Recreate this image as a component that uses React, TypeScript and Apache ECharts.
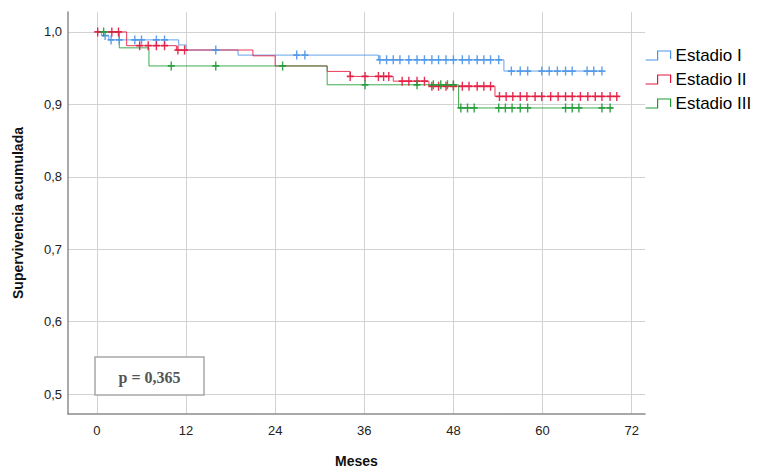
import React, { useEffect, useRef } from "react";
import * as echarts from "echarts";

// ---- Data ----
const seriesNames = ["Estadio I", "Estadio II", "Estadio III"];

// Kaplan-Meier event times (months) and survival after each event
const stage1Times = [0, 0.6, 1.6, 11, 12, 19, 37.9, 54.8];
const stage1Surv = [1.0, 0.995, 0.989, 0.982, 0.975, 0.968, 0.9615, 0.946];
const stage1End = 68;
const stage1Censored = [1.1, 1.9, 3.0, 5.1, 6.0, 8.0, 9.1, 16, 26.9, 28.0, 38.1, 39.0, 39.9, 40.8, 42.0, 43.1, 44.1, 45.1, 46.0, 47.0, 48.0, 49.2, 50.1, 51.2, 52.1, 53.0, 54.1, 55.8, 57.0, 58.0, 59.9, 60.9, 62.0, 63.1, 64.0, 66.0, 66.9, 68.0];

const stage2Times = [0, 4, 10.7, 21, 24, 31, 34.1, 39.9, 44.7, 53.6];
const stage2Surv = [1.0, 0.981, 0.975, 0.967, 0.953, 0.9455, 0.9386, 0.932, 0.925, 0.911];
const stage2End = 70.3;
const stage2Censored = [0.1, 2.0, 2.9, 5.75, 6.9, 8.0, 9.1, 10.9, 11.8, 34.1, 36.1, 37.9, 38.6, 39.3, 41.1, 42.0, 43.1, 44.1, 45.1, 46.0, 47.0, 48.0, 49.2, 50.1, 51.2, 52.1, 53.0, 54.2, 55.1, 56.0, 57.0, 57.9, 59.0, 59.9, 61.1, 62.1, 63.1, 64.0, 65.1, 66.1, 67.1, 68.0, 69.1, 70.0];

const stage3Times = [0, 3, 7, 31, 48.7];
const stage3Surv = [1.0, 0.978, 0.953, 0.927, 0.895];
const stage3End = 69.4;
const stage3Censored = [0.9, 10.0, 16.0, 25.0, 36.1, 43.1, 45.3, 46.3, 47.2, 48.0, 49.0, 49.9, 50.8, 54.1, 55.0, 55.9, 57.0, 58.0, 63.1, 64.0, 64.9, 68.0, 69.1];

const xTicks = [0, 12, 24, 36, 48, 60, 72];
const yTicks = [0.5, 0.6, 0.7, 0.8, 0.9, 1.0];
const pValueText = "p = 0,365";

const colors = ["#4a95e8", "#e3173e", "#1e9b34"];

function stepValue(times: number[], surv: number[], t: number) {
  let v = surv[0];
  for (let i = 0; i < times.length; i++) {
    if (times[i] <= t) v = surv[i];
  }
  return v;
}

function curve(times: number[], surv: number[], end: number) {
  const pts = times.map((t, i) => [t, surv[i]]);
  pts.push([end, surv[surv.length - 1]]);
  return pts;
}

function censorPts(times: number[], surv: number[], cens: number[]) {
  return cens.map((t) => [t, stepValue(times, surv, t)]);
}

const plusPath =
  "path://M4,0 L6,0 L6,4 L10,4 L10,6 L6,6 L6,10 L4,10 L4,6 L0,6 L0,4 L4,4 Z";
const stepIcon = "path://M0,9 L12,9 L12,0 L25,0 L25,8";

export default function App() {
  const ref = useRef<HTMLDivElement>(null);
  useEffect(() => {
    document.body.style.margin = "0";
    const chart = echarts.init(ref.current!, undefined, { renderer: "svg" });
    const groups = [
      [stage1Times, stage1Surv, stage1End, stage1Censored],
      [stage2Times, stage2Surv, stage2End, stage2Censored],
      [stage3Times, stage3Surv, stage3End, stage3Censored],
    ] as [number[], number[], number, number[]][];

    const series: any[] = [];
    groups.forEach(([t, s, e, c], i) => {
      series.push({
        name: seriesNames[i],
        type: "line",
        step: "end",
        symbol: "none",
        data: curve(t, s, e),
        lineStyle: { color: colors[i], width: 1, opacity: 0.85 },
        itemStyle: { color: colors[i] },
        z: 3,
      });
    });
    groups.forEach(([t, s, e, c], i) => {
      series.push({
        name: seriesNames[i] + " censurado",
        type: "scatter",
        symbol: plusPath,
        symbolSize: [7, 9],
        data: censorPts(t, s, c),
        itemStyle: { color: colors[i], opacity: 0.9 },
        silent: true,
        z: 4,
      });
    });

    chart.setOption({
      animation: false,
      textStyle: { fontFamily: "Liberation Sans, Arial, sans-serif" },
      grid: { left: 68, top: 12, right: 119, bottom: 57 },
      xAxis: {
        type: "value",
        min: -3.9,
        max: 73.8,
        name: "Meses",
        nameLocation: "middle",
        nameGap: 40,
        nameTextStyle: { fontSize: 14, fontWeight: "bold", color: "#111" },
        axisLine: { show: true, onZero: false, lineStyle: { color: "#8c8c8c", width: 1.5 } },
        axisTick: { show: false, customValues: xTicks },
        axisLabel: { customValues: xTicks, fontSize: 13, color: "#222", margin: 10 },
        splitLine: { show: true, lineStyle: { color: "#d2d2d2", width: 1 } },
      },
      yAxis: {
        type: "value",
        min: 0.4725,
        max: 1.0275,
        name: "Supervivencia acumulada",
        nameLocation: "middle",
        nameGap: 43,
        nameTextStyle: { fontSize: 14, fontWeight: "bold", color: "#111" },
        axisLine: { show: true, onZero: false, lineStyle: { color: "#8c8c8c", width: 1.5 } },
        axisTick: { show: false, customValues: yTicks },
        axisLabel: {
          customValues: yTicks,
          fontSize: 13,
          color: "#222",
          margin: 6,
          formatter: (v: number) => v.toFixed(1).replace(".", ","),
        },
        splitLine: { show: true, lineStyle: { color: "#d2d2d2", width: 1 } },
      },
      legend: {
        orient: "vertical",
        left: 645,
        top: 47,
        padding: 0,
        itemWidth: 25,
        itemHeight: 9,
        itemGap: 7,
        textStyle: { fontSize: 17, color: "#000", fontFamily: "Liberation Sans, Arial, sans-serif" },
        data: seriesNames.map((n, i) => ({
          name: n,
          icon: stepIcon,
          itemStyle: { color: "transparent", borderColor: colors[i], borderWidth: 1.2 },
        })),
      },
      graphic: [
        {
          type: "rect",
          shape: { x: 95, y: 357, width: 109, height: 38 },
          style: { fill: "#fff", stroke: "#a8a8a8", lineWidth: 1.5 },
          z: 100,
        },
        {
          type: "text",
          x: 149.5,
          y: 377,
          style: {
            text: pValueText,
            fill: "#555",
            font: "bold 16px 'Liberation Serif', 'Times New Roman', serif",
            align: "center",
            verticalAlign: "middle",
          },
          z: 101,
        },
      ],
      series,
    });
    return () => chart.dispose();
  }, []);
  return <div ref={ref} style={{ width: 764, height: 473 }} />;
}
